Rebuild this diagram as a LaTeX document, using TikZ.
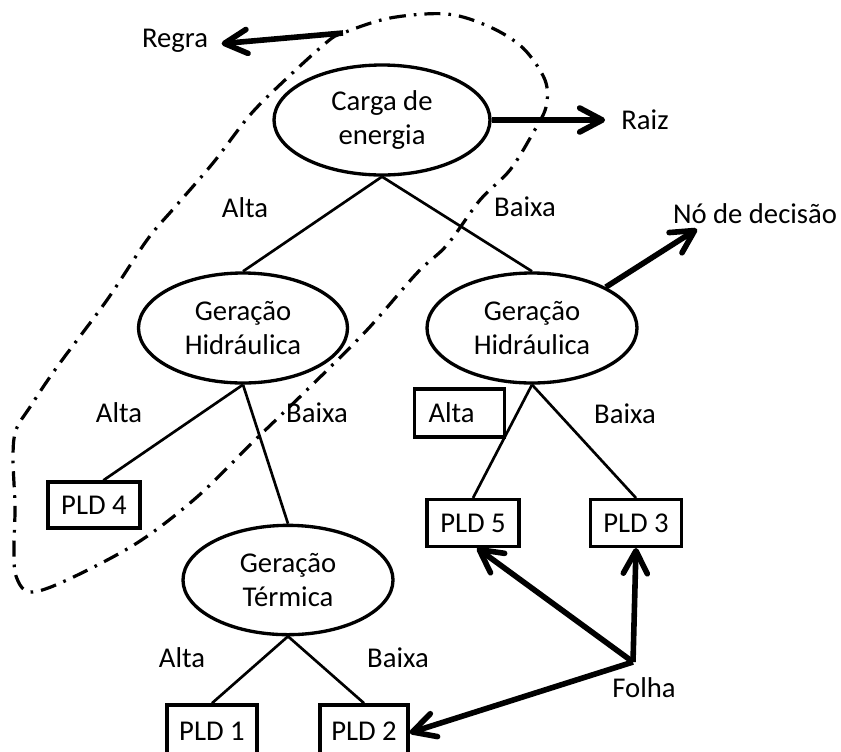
\documentclass[tikz,border=0pt]{standalone}
\usepackage{fontspec}
\setmainfont{Carlito}
\usetikzlibrary{shapes.geometric,arrows.meta}
\begin{document}
\begin{tikzpicture}[x=0.75pt,y=-0.75pt,
  every node/.style={font=\fontsize{21.5}{25.5}\selectfont},
  oval/.style={draw,ellipse,line width=2.5pt,inner sep=0pt,align=center},
  leaf/.style={draw,rectangle,line width=2.5pt,inner sep=0pt},
  lbl/.style={inner sep=0pt},
  branch/.style={line width=2pt},
  pointer/.style={line width=4.2pt,-{Straight Barb[round,length=17pt,width=18pt]}},
  region/.style={line width=2.4pt,dash pattern=on 12pt off 6pt on 2pt off 6pt}
]
\useasboundingbox (0,0) rectangle (841,751);

% decision nodes
\node[oval,minimum width=162pt,minimum height=82.5pt] (root) at (382,120) {Carga de\\energia};
\node[oval,minimum width=156.75pt,minimum height=82.5pt] (ghl) at (243,328) {Geração\\Hidráulica};
\node[oval,minimum width=157.5pt,minimum height=82.5pt] (ghr) at (532,328) {Geração\\Hidráulica};
\node[oval,minimum width=157.5pt,minimum height=82pt] (term) at (288,580) {Geração\\Térmica};

% leaves
\node[leaf,minimum width=69pt,minimum height=34.5pt] (pld4) at (94,505) {PLD 4};
\node[leaf,minimum width=69pt,minimum height=35pt] (pld5) at (473,523) {PLD 5};
\node[leaf,minimum width=68pt,minimum height=35pt] (pld3) at (636,523) {PLD 3};
\node[leaf,minimum width=67.5pt,minimum height=40pt] (pld1) at (212,731.5) {PLD 1};
\node[leaf,minimum width=66pt,minimum height=40pt] (pld2) at (364,731.5) {PLD 2};

% branches
\draw[branch] (root.south) -- (ghl.north);
\draw[branch] (root.south) -- (ghr.north);
\draw[branch] (ghl.south) -- ([xshift=7pt]pld4.north);
\draw[branch] (ghl.south) -- (term.north);
\draw[branch] (ghr.south) -- (pld5.north);
\draw[branch] (ghr.south) -- (pld3.north);
\draw[branch] (term.south) -- (pld1.north);
\draw[branch] (term.south) -- (pld2.north);

% branch labels
\node[lbl] (a1) at (245,208) {Alta};
\node[lbl] (b1) at (525,207) {Baixa};
\node[lbl] (a2) at (119,413) {Alta};
\node[lbl] (b2) at (317,413) {Baixa};
\node[leaf,inner xsep=10.5pt,text width=46.5pt,align=left,minimum height=36pt] (a3) at (459.5,413) {Alta};
\node[lbl] (b3) at (625,414) {Baixa};
\node[lbl] (a4) at (182,658) {Alta};
\node[lbl] (b4) at (398,658) {Baixa};

% annotations
\node[lbl] (regra) at (175,41) {Regra};
\node[lbl] (raiz) at (645,120) {Raiz};
\node[lbl] (decisao) at (755,214) {Nó de decisão};
\node[lbl] (folha) at (644,688) {Folha};
\coordinate (rtail) at (343,33);
\coordinate (notip) at (697,229);
\coordinate (fj) at (633,662);

% rule region
\draw[region] plot[smooth cycle,tension=0.55] coordinates {
  (343,33) (390,18) (447,14) (490,27) (523,48) (545,80) (546,107) (533,133)
  (510,170) (480,200) (447,245) (417,273) (367,330) (310,387) (253,442)
  (197,497) (137,543) (67,580) (30,592) (16,576) (14,547) (15,507) (13,457)
  (16,430) (30,407) (57,367) (107,300) (147,240) (175,207) (213,163)
  (250,115) (285,80) (327,42)};

% pointers
\draw[pointer] (rtail) -- ([xshift=10pt,yshift=-2pt]regra.east);
\draw[pointer] (root.east) -- ([xshift=-12pt]raiz.west);
\draw[pointer] (ghr.29) -- (notip);
\draw[pointer] (fj) -- ([xshift=3pt]pld5.south);
\draw[pointer] (fj) -- (pld3.south);
\draw[pointer] (fj) -- ([yshift=-1pt]pld2.east);
\end{tikzpicture}
\end{document}
